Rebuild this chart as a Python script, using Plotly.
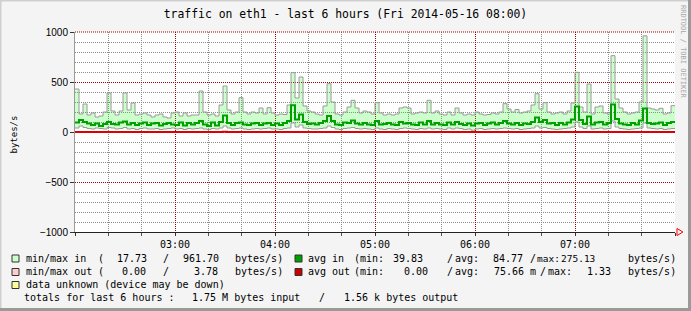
import plotly.graph_objects as go
from datetime import datetime, timedelta

# ---------------- data (bytes/s), 150 samples, 02:00 -> 08:00 ----------------
max_in = [430, 180, 280, 170, 190, 150, 160, 200, 390, 210, 170, 210, 390, 220, 290, 170, 180, 190, 170, 150,
          170, 180, 150, 140, 190, 200, 160, 190, 160, 170,
          170, 410, 200, 170, 180, 160, 270, 460, 220, 180, 200, 343, 200, 180, 200, 190, 240, 180, 243, 190,
          170, 180, 175, 270, 593, 340, 550, 260, 210, 200,
          180, 170, 260, 483, 300, 180, 170, 200, 250, 317, 240, 190, 210, 200, 180, 293, 190, 170, 180, 170,
          180, 240, 250, 240, 180, 190, 200, 190, 317, 190,
          210, 180, 170, 200, 170, 240, 190, 170, 180, 170, 200, 180, 170, 175, 190, 180, 200, 283, 230, 200,
          225, 190, 200, 210, 270, 383, 230, 293, 200, 180,
          190, 200, 180, 210, 290, 597, 250, 200, 480, 180, 250, 260, 190, 180, 763, 330, 240, 200, 180, 190,
          200, 300, 961.70, 240, 230, 220, 237, 180, 190, 263]

min_in = [40, 60, 45, 35, 30, 40, 35, 30, 45, 40, 30, 35, 45, 30, 35, 25, 35, 40, 30, 30,
          35, 25, 30, 35, 40, 30, 35, 25, 35, 30,
          35, 40, 30, 25, 35, 30, 40, 60, 40, 30, 35, 40, 30, 25, 30, 35, 30, 35, 40, 30,
          30, 25, 35, 40, 90, 50, 70, 40, 35, 30,
          30, 35, 40, 60, 45, 30, 25, 35, 40, 45, 35, 30, 35, 30, 25, 40, 30, 25, 35, 30,
          25, 35, 40, 35, 30, 25, 35, 30, 40, 30,
          35, 30, 25, 40, 30, 40, 35, 25, 30, 17.73, 30, 35, 25, 30, 35, 30, 35, 40, 35, 30,
          35, 25, 30, 35, 40, 60, 40, 45, 35, 30,
          25, 30, 35, 40, 50, 100, 50, 35, 60, 30, 35, 40, 30, 35, 110, 50, 35, 30, 25, 30,
          35, 40, 90, 40, 35, 30, 35, 25, 30, 35]

avg_in = [95, 120, 100, 85, 70, 85, 60, 80, 100, 80, 75, 95, 105, 75, 90, 70, 85, 95, 70, 85,
          90, 65, 80, 90, 75, 70, 95, 65, 90, 75,
          90, 110, 75, 60, 95, 65, 100, 165, 90, 70, 90, 95, 75, 70, 85, 90, 70, 85, 90, 70,
          85, 70, 90, 110, 267, 125, 175, 100, 80, 85,
          75, 90, 110, 160, 110, 75, 70, 95, 90, 115, 85, 75, 90, 75, 70, 110, 75, 80, 90, 75,
          70, 100, 85, 90, 75, 70, 95, 75, 110, 75,
          90, 75, 70, 95, 75, 100, 80, 70, 85, 65, 85, 90, 70, 85, 95, 75, 90, 110, 85, 75,
          90, 70, 85, 80, 100, 145, 100, 120, 85, 90,
          70, 90, 75, 95, 125, 255, 120, 80, 155, 75, 95, 100, 75, 90, 275.13, 130, 85, 75, 70, 90,
          75, 115, 235, 90, 80, 85, 95, 70, 90, 100]

max_out = [0, 0, 0, 0, 0, 0, 0, 0, 0, 0, 0, 0, 0, 0, 0, 0, 0, 0, 0, 0,
           0, 0, 0, 0, 0, 0, 0, 0, 0, 0, 0, 0, 0, 0, 0, 0, 0, 3.78, 0, 0,
           0, 0, 0, 0, 0, 0, 0, 0, 0, 0, 0, 0, 0, 0, 0, 0, 0, 0, 0, 0,
           0, 0, 0, 0, 0, 0, 0, 0, 0, 0, 0, 0, 0, 0, 0, 0, 0, 0, 0, 0,
           0, 0, 0, 0, 0, 0, 0, 0, 0, 0, 0, 0, 0, 0, 0, 0, 0, 0, 0, 0,
           0, 0, 0, 0, 0, 0, 0, 0, 0, 0, 0, 0, 0, 0, 0, 0, 0, 0, 0, 0,
           0, 0, 0, 0, 0, 0, 0, 0, 0, 0, 0, 0, 0, 0, 0, 0, 0, 0, 0, 0,
           0, 0, 0, 0, 0, 0, 0, 0, 0, 0]

avg_out = [0, 0, 0, 0, 0, 0, 0, 0, 0, 0, 0, 0, 0, 0, 0, 0, 0, 0, 0, 0,
           0, 0, 0, 0, 0, 0, 0, 0, 0, 0, 0, 0, 0, 0, 0, 0, 0, 1.33, 0, 0,
           0, 0, 0, 0, 0, 0, 0, 0, 0, 0, 0, 0, 0, 0, 0, 0, 0, 0, 0, 0,
           0, 0, 0, 0, 0, 0, 0, 0, 0, 0, 0, 0, 0, 0, 0, 0, 0, 0, 0, 0,
           0, 0, 0, 0, 0, 0, 0, 0, 0, 0, 0, 0, 0, 0, 0, 0, 0, 0, 0, 0,
           0, 0, 0, 0, 0, 0, 0, 0, 0, 0, 0, 0, 0, 0, 0, 0, 0, 0, 0, 0,
           0, 0, 0, 0, 0, 0, 0, 0, 0, 0, 0, 0, 0, 0, 0, 0, 0, 0, 0, 0,
           0, 0, 0, 0, 0, 0, 0, 0, 0, 0]

y_tick_vals = [-1000, -500, 0, 500, 1000]
y_tick_text = ["\u22121000", "\u2212500", "0", "500", "1000"]
x_tick_vals = ["2014-05-16 02:00", "2014-05-16 03:00", "2014-05-16 04:00", "2014-05-16 05:00",
               "2014-05-16 06:00", "2014-05-16 07:00", "2014-05-16 08:00"]
x_tick_text = ["", "03:00", "04:00", "05:00", "06:00", "07:00", ""]

title_text = "traffic on eth1 - last 6 hours (Fri 2014-05-16 08:00)"

# ---------------- figure ----------------
start = datetime(2014, 5, 16, 2, 0)
n = len(max_in)
times = [start + timedelta(seconds=144 * i) for i in range(n + 1)]


def ext(v):
    return list(v) + [v[-1]]


# minor grid positions (every 20 min / every 100), skipping the major ones
x_minor = [start + timedelta(minutes=20 * k) for k in range(19) if k % 3 != 0]
y_minor = [v for v in range(-900, 1000, 100) if v % 500 != 0]

W, H = 691, 311
L, R, T, B = 75, 16, 32, 79
PW, PH = W - L - R, H - T - B


def px(x):
    return (x - L) / PW


def py(y):
    return (H - B - y) / PH


MONO = "DejaVu Sans Mono"
SANS = "Liberation Sans"

fig = go.Figure()
fig.add_trace(go.Scatter(x=times, y=ext(min_in), mode="lines", line=dict(color="#9a9a9a", width=1, shape="hv"),
                         hoverinfo="skip", showlegend=False))
fig.add_trace(go.Scatter(x=times, y=ext(max_in), mode="lines", line=dict(color="#9a9a9a", width=1, shape="hv"),
                         fill="tonexty", fillcolor="rgba(0,255,0,0.2)", hoverinfo="skip", showlegend=False))
fig.add_trace(go.Scatter(x=times, y=ext(avg_in), mode="lines", line=dict(color="#00a000", width=2, shape="hv"),
                         hoverinfo="skip", showlegend=False))
fig.add_trace(go.Scatter(x=times, y=ext(max_out), mode="lines", line=dict(color="#ffaaaa", width=1, shape="hv"),
                         hoverinfo="skip", showlegend=False))
fig.add_trace(go.Scatter(x=times, y=ext(avg_out), mode="lines", line=dict(color="#dd0000", width=2, shape="hv"),
                         hoverinfo="skip", showlegend=False))

minor_grid = "#8c8c8c"
major_grid = "#a00000"

fig.update_xaxes(
    type="date", range=[x_tick_vals[0], x_tick_vals[-1]],
    tickmode="array", tickvals=x_tick_vals, ticktext=x_tick_text,
    showgrid=True, gridcolor=major_grid, griddash="1px,1px", gridwidth=1,
    ticks="outside", ticklen=3, tickcolor="#333333",
    minor=dict(tickmode="array", tickvals=x_minor, showgrid=True, gridcolor=minor_grid,
               griddash="1px,1px", ticks="outside", ticklen=3, tickcolor="#555555"),
    showline=True, linecolor="#222222", linewidth=1, zeroline=False,
    tickfont=dict(family=MONO, size=10, color="black"), automargin=False, fixedrange=True,
)
fig.update_yaxes(
    range=[-1000, 1000], tickmode="array", tickvals=y_tick_vals, ticktext=y_tick_text,
    showgrid=True, gridcolor=major_grid, griddash="1px,1px", gridwidth=1,
    ticks="outside", ticklen=4, tickcolor="#333333",
    minor=dict(tickmode="array", tickvals=y_minor, showgrid=True, gridcolor=minor_grid, griddash="1px,1px"),
    showline=True, linecolor="#9a9a9a", linewidth=1, zeroline=False,
    tickfont=dict(family=SANS, size=10, color="black"), automargin=False, fixedrange=True,
)

shapes = []
# top major grid line (plot edge)
shapes.append(dict(type="line", xref="paper", yref="paper", x0=0, x1=1, y0=1, y1=1,
                   line=dict(color=major_grid, width=1, dash="1px,1px")))
# red arrow at the end of the x axis
shapes.append(dict(type="path", xref="paper", yref="paper",
                   path="M %f %f L %f %f L %f %f Z" % (px(677), py(228.5), px(683), py(232), px(677), py(235.5)),
                   line=dict(color="#ff0000", width=1)))
# legend squares
sq = [(255, "#ccffcc"), (268.5, "#ffcccc"), (281.5, "#ffff99")]
for y0, c in sq:
    shapes.append(dict(type="rect", xref="paper", yref="paper", x0=px(12), x1=px(19), y0=py(y0), y1=py(y0 + 7),
                       fillcolor=c, line=dict(color="#333333", width=1)))
for y0, c in [(255, "#00a000"), (268.5, "#cc0000")]:
    shapes.append(dict(type="rect", xref="paper", yref="paper", x0=px(295), x1=px(302), y0=py(y0), y1=py(y0 + 7),
                       fillcolor=c, line=dict(color="#333333", width=1)))
# image frame
shapes.append(dict(type="line", xref="paper", yref="paper", x0=px(0.5), x1=px(0.5), y0=py(0), y1=py(311),
                   line=dict(color="#cfcfcf", width=2)))
shapes.append(dict(type="line", xref="paper", yref="paper", x0=px(0), x1=px(691), y0=py(0.5), y1=py(0.5),
                   line=dict(color="#cfcfcf", width=2)))
shapes.append(dict(type="line", xref="paper", yref="paper", x0=px(689.5), x1=px(689.5), y0=py(0), y1=py(311),
                   line=dict(color="#9a9a9a", width=3)))
shapes.append(dict(type="line", xref="paper", yref="paper", x0=px(0), x1=px(691), y0=py(309.5), y1=py(309.5),
                   line=dict(color="#9a9a9a", width=3)))

ann = []


def txt(x, y, s, anchor="left", size=10, family=MONO, color="black", angle=0):
    ann.append(dict(xref="paper", yref="paper", x=px(x), y=py(y), text=s, showarrow=False,
                    xanchor=anchor, yanchor="middle", textangle=angle, borderpad=0, borderwidth=0,
                    font=dict(family=family, size=size, color=color)))


# y axis title and side credit
txt(13.5, 135, "bytes/s", anchor="center", size=9, angle=-90)
txt(683, 52, "RRDTOOL / TOBI OETIKER", anchor="center", size=7, color="#a8a8a8", angle=90)

# legend line 1
y1 = 258
txt(26, y1, "min/max in")
txt(98, y1, "(")
txt(147, y1, "17.73", anchor="right")
txt(163, y1, "/")
txt(218.5, y1, "961.70", anchor="right")
txt(235, y1, "bytes/s)")
txt(308, y1, "avg in")
txt(354, y1, "(min:")
txt(422.5, y1, "39.83", anchor="right")
txt(447, y1, "/")
txt(455, y1, "avg:")
txt(522.5, y1, "84.77", anchor="right")
txt(530, y1, "/")
txt(537, y1, "max:", size=9.5)
txt(595, y1, "275.13", anchor="right", size=9.5)
txt(628, y1, "bytes/s)")
# legend line 2
y2 = 271.5
txt(26, y2, "min/max out")
txt(98, y2, "(")
txt(146, y2, "0.00", anchor="right")
txt(163, y2, "/")
txt(218, y2, "3.78", anchor="right")
txt(235, y2, "bytes/s)")
txt(308, y2, "avg out")
txt(354, y2, "(min:")
txt(428.5, y2, "0.00", anchor="right")
txt(447, y2, "/")
txt(455, y2, "avg:")
txt(494, y2, "75.66 m")
txt(540, y2, "/")
txt(547.5, y2, "max:")
txt(611, y2, "1.33", anchor="right")
txt(628, y2, "bytes/s)")
# legend line 3/4
txt(26, 284.5, "data unknown (device may be down)")
txt(24, 297.5, "totals for last 6 hours :")
txt(192, 297.5, "1.75 M bytes input")
txt(319, 297.5, "/")
txt(344, 297.5, "1.56 k bytes output")

fig.update_layout(
    width=W, height=H, autosize=False,
    margin=dict(l=L, r=R, t=T, b=B, pad=0),
    paper_bgcolor="#f4f4f4", plot_bgcolor="white",
    title=dict(text=title_text, x=345.5 / W, xanchor="center", xref="container", y=1 - 14.5 / H,
               yanchor="middle", yref="container", font=dict(family=MONO, size=11.4, color="black")),
    shapes=shapes, annotations=ann, showlegend=False,
)

fig.write_html("out.html")
